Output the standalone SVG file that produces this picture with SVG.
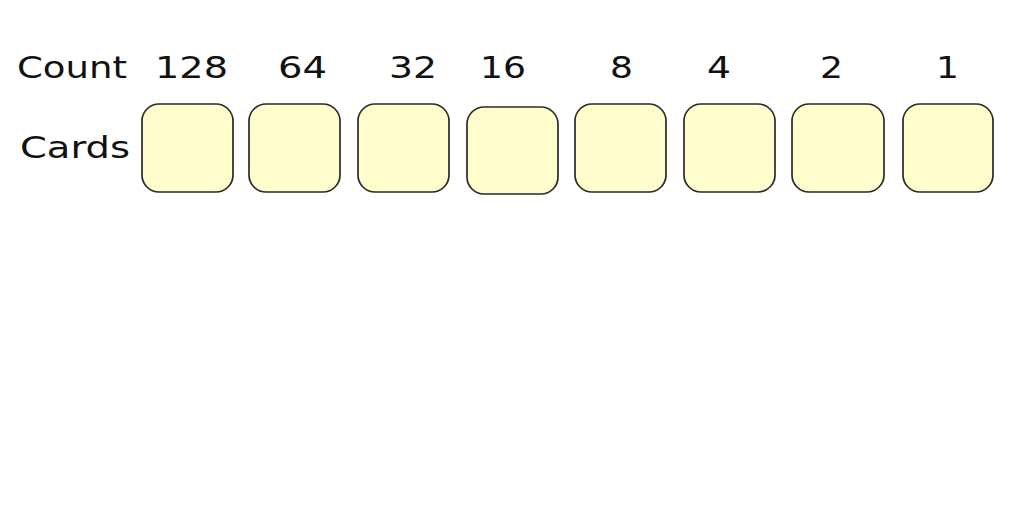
<svg xmlns="http://www.w3.org/2000/svg" width="1024" height="512" viewBox="0 0 1024 512">
<style>
.lbl{font-family:"DejaVu Sans","Verdana",sans-serif;font-size:31px;fill:#111}
.card{fill:#FFFDCC;stroke:#2a2a2a;stroke-width:1.7}
</style>
<rect width="1024" height="512" fill="#fff"/>
<g id="labels">
<text class="lbl" x="17" y="78" textLength="110" lengthAdjust="spacingAndGlyphs">Count</text>
<text class="lbl" x="20" y="158" textLength="110" lengthAdjust="spacingAndGlyphs">Cards</text>
</g>
<g id="counts">
<text class="lbl" x="155" y="78" textLength="73" lengthAdjust="spacingAndGlyphs">128</text>
<text class="lbl" x="278" y="78" textLength="49" lengthAdjust="spacingAndGlyphs">64</text>
<text class="lbl" x="389" y="78" textLength="48" lengthAdjust="spacingAndGlyphs">32</text>
<text class="lbl" x="480" y="78" textLength="46" lengthAdjust="spacingAndGlyphs">16</text>
<text class="lbl" x="610" y="78" textLength="23" lengthAdjust="spacingAndGlyphs">8</text>
<text class="lbl" x="707" y="78" textLength="24" lengthAdjust="spacingAndGlyphs">4</text>
<text class="lbl" x="820" y="78" textLength="23" lengthAdjust="spacingAndGlyphs">2</text>
<text class="lbl" x="936" y="78" textLength="23" lengthAdjust="spacingAndGlyphs">1</text>
</g>
<g id="card-128"><rect class="card" x="142" y="104" width="91" height="88" rx="17" ry="17"/></g>
<g id="card-64"><rect class="card" x="249" y="104" width="91" height="88" rx="17" ry="17"/></g>
<g id="card-32"><rect class="card" x="358" y="104" width="91" height="88" rx="17" ry="17"/></g>
<g id="card-16"><rect class="card" x="467" y="107" width="91" height="87" rx="17" ry="17"/></g>
<g id="card-8"><rect class="card" x="575" y="104" width="91" height="88" rx="17" ry="17"/></g>
<g id="card-4"><rect class="card" x="684" y="104" width="91" height="88" rx="17" ry="17"/></g>
<g id="card-2"><rect class="card" x="792" y="104" width="92" height="88" rx="17" ry="17"/></g>
<g id="card-1"><rect class="card" x="903" y="104" width="90" height="88" rx="17" ry="17"/></g>
</svg>
